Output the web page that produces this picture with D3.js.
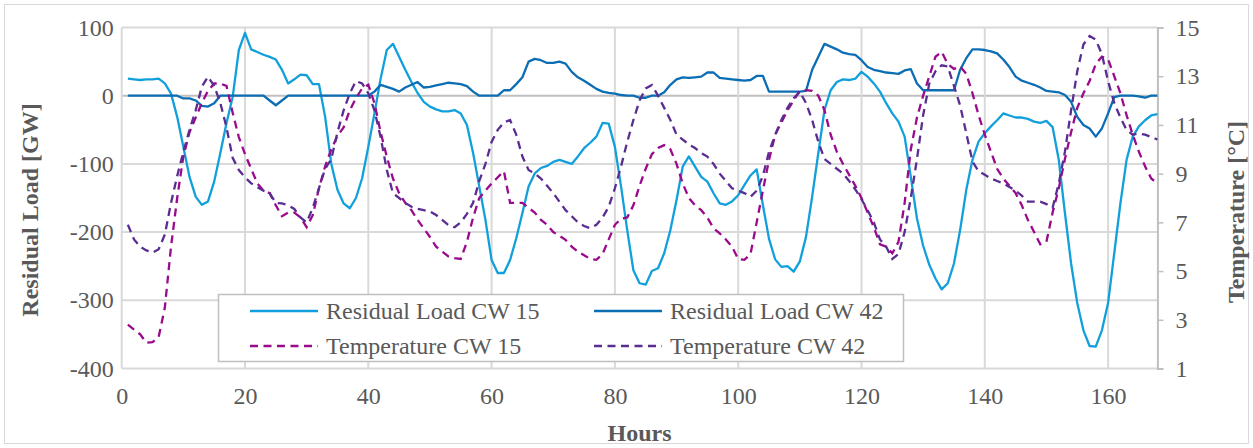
<!DOCTYPE html>
<html><head><meta charset="utf-8">
<script src="https://cdn.jsdelivr.net/npm/d3@7"></script>
<style>html,body{margin:0;padding:0;background:#fff;}svg{display:block;}</style>
</head><body>
<svg id="chart" width="1253" height="448"></svg>
<script>
const hours = [1,2,3,4,5,6,7,8,9,10,11,12,13,14,15,16,17,18,19,20,21,22,23,24,25,26,27,28,29,30,31,32,33,34,35,36,37,38,39,40,41,42,43,44,45,46,47,48,49,50,51,52,53,54,55,56,57,58,59,60,61,62,63,64,65,66,67,68,69,70,71,72,73,74,75,76,77,78,79,80,81,82,83,84,85,86,87,88,89,90,91,92,93,94,95,96,97,98,99,100,101,102,103,104,105,106,107,108,109,110,111,112,113,114,115,116,117,118,119,120,121,122,123,124,125,126,127,128,129,130,131,132,133,134,135,136,137,138,139,140,141,142,143,144,145,146,147,148,149,150,151,152,153,154,155,156,157,158,159,160,161,162,163,164,165,166,167,168];

const residualCW15 = [25,24,23,24,24,25,18,3,-31,-75,
-119,-148,-160,-155,-126,-84,-40,-2,67,92,
68,64,60,57,53,38,18,24,31,30,
17,17,-31,-100,-138,-158,-165,-150,-121,-75,
-26,25,67,76,57,38,20,4,-9,-16,
-20,-23,-23,-21,-26,-43,-84,-133,-182,-241,
-260,-260,-241,-209,-172,-133,-114,-106,-103,-97,
-94,-97,-100,-89,-77,-69,-60,-40,-41,-75,
-133,-197,-256,-275,-277,-257,-253,-231,-197,-153,
-104,-89,-104,-119,-126,-143,-158,-160,-155,-146,
-131,-117,-108,-160,-210,-240,-251,-250,-258,-243,
-207,-148,-84,-21,8,20,24,23,25,35,
28,18,6,-11,-26,-38,-60,-119,-180,-220,
-248,-268,-284,-275,-246,-197,-138,-94,-67,-55,
-45,-36,-26,-29,-32,-32,-34,-38,-40,-37,
-46,-94,-172,-246,-304,-344,-367,-368,-344,-304,
-231,-158,-94,-60,-45,-36,-29,-27];

const residualCW42 = [0,0,0,0,0,0,0,0,0,-4,
-4,-7,-15,-16,-11,0,0,0,0,0,
0,0,0,-7,-14,-7,0,0,0,0,
0,0,0,0,0,0,0,0,0,0,
6,16,13,10,6,12,16,20,12,13,
15,17,19,18,17,14,6,0,0,0,
0,8,8,17,27,50,54,52,48,48,
50,47,35,27,22,16,10,6,4,3,
1,0,0,-3,-3,0,0,5,16,24,
27,26,27,28,34,34,26,25,24,23,
22,23,29,29,6,6,6,6,6,6,
7,38,57,76,72,68,63,61,60,52,
42,38,36,34,33,32,37,39,18,8,
8,8,8,8,8,38,55,68,68,67,
65,62,53,42,28,22,19,16,12,7,
6,5,1,-9,-31,-43,-48,-60,-48,-26,
-2,0,0,0,-1,-3,0,0];

const temperatureCW15 = [2.8,2.6,2.4,2.06,2.08,2.3,3.5,6.0,8.0,9.7,
10.7,11.3,11.9,12.4,12.7,12.7,12.6,11.5,10.5,9.8,
9.2,8.6,8.3,8.2,7.7,7.25,7.4,7.4,7.2,6.8,
7.3,8.4,9.3,10.0,10.55,10.9,11.6,12.1,12.5,12.65,
11.9,10.7,9.7,8.8,8.2,7.8,7.5,7.1,6.75,6.4,
6.0,5.8,5.6,5.53,5.5,6.2,7.2,8.0,8.3,8.6,
8.85,9.1,7.8,7.8,7.8,7.6,7.4,7.1,6.9,6.6,
6.45,6.28,6.0,5.8,5.65,5.5,5.46,5.7,6.3,6.9,
7.15,7.2,7.7,8.5,9.2,9.8,10.05,10.17,10.0,9.4,
8.6,8.0,7.7,7.5,7.2,6.76,6.55,6.3,6.0,5.5,
5.46,5.7,7.0,8.3,9.56,10.6,11.1,11.6,12.0,12.4,
12.43,12.4,12.2,11.6,10.6,9.9,9.4,8.95,8.5,8.0,
7.4,6.8,6.1,6.0,5.73,6.2,7.8,10.0,11.3,12.2,
13.0,13.8,14.0,13.5,13.3,13.4,13.1,12.3,11.4,10.6,
9.9,9.2,8.8,8.5,8.2,7.7,7.1,6.6,6.1,6.2,
7.4,8.4,9.6,10.7,11.7,12.3,12.8,13.5,13.8,13.7,
13.0,12.3,11.4,10.6,9.9,9.3,8.8,8.6];

const temperatureCW42 = [6.9,6.3,6.0,5.85,5.76,5.9,6.5,7.8,8.9,9.9,
10.8,11.6,12.57,12.98,12.6,11.9,10.9,9.65,9.15,8.85,
8.6,8.45,8.3,8.2,7.8,7.78,7.7,7.55,7.2,7.0,
7.6,8.4,9.2,9.6,10.7,11.6,12.3,12.8,12.7,12.3,
11.6,10.5,9.15,8.2,8.0,7.8,7.64,7.55,7.5,7.45,
7.3,7.1,6.89,6.8,7.0,7.35,7.8,8.7,9.4,10.3,
10.8,11.1,11.2,10.6,9.7,9.15,9.0,8.8,8.5,8.2,
7.85,7.5,7.25,7.0,6.85,6.76,6.9,7.2,7.64,8.4,
9.3,10.3,11.2,12.0,12.5,12.64,12.2,11.7,11.2,10.6,
10.4,10.2,10.05,9.85,9.7,9.4,9.0,8.7,8.4,8.3,
8.2,8.05,8.3,8.9,9.9,10.6,11.2,11.7,12.1,12.36,
11.9,11.2,10.3,9.6,9.4,9.2,9.0,8.7,8.35,7.95,
7.5,7.0,6.3,6.0,5.5,5.7,6.6,8.0,9.6,11.4,
12.7,13.2,13.45,13.4,12.6,11.8,10.66,9.5,9.1,8.95,
8.8,8.7,8.6,8.45,8.3,8.1,7.85,7.85,7.85,7.75,
7.6,8.6,9.9,11.6,13.2,14.3,14.65,14.5,13.9,12.8,
11.9,11.3,10.8,10.6,10.65,10.6,10.5,10.4];

const xTicks = [0,20,40,60,80,100,120,140,160];
const yLeftTicks = [-400,-300,-200,-100,0,100];
const yRightTicks = [1,3,5,7,9,11,13,15];
const seriesNames = ["Residual Load CW 15","Residual Load CW 42","Temperature CW 15","Temperature CW 42"];
const seriesColors = ["#12a0dc","#0b6db3","#990a8c","#5a2d91"];

const svg = d3.select("#chart");
const m = {left:121.7, right:1157.4, top:27.5, bottom:368.5};
const font = "'Liberation Serif','Times New Roman',serif";
const txt = "#595959";
const gridCol = "#d9d9d9";
const fmt = d => String(d);

svg.append("rect").attr("x",4.5).attr("y",4.5).attr("width",1244).attr("height",439)
  .attr("fill","#fff").attr("stroke",gridCol).attr("stroke-width",1);

const x = d3.scaleLinear().domain([0,168]).range([m.left,m.right]);
const yL = d3.scaleLinear().domain([-400,100]).range([m.bottom,m.top]);
const yR = d3.scaleLinear().domain([1,15]).range([m.bottom,m.top]);

// gridlines
const g = svg.append("g");
g.selectAll(".hg").data(yLeftTicks).join("line")
  .attr("x1",m.left).attr("x2",m.right).attr("y1",d=>yL(d)).attr("y2",d=>yL(d))
  .attr("stroke",d=> d===0 ? "#bfbfbf" : gridCol).attr("stroke-width",2);
g.selectAll(".vg").data(xTicks).join("line")
  .attr("x1",d=>x(d)).attr("x2",d=>x(d)).attr("y1",m.top).attr("y2",m.bottom)
  .attr("stroke",gridCol).attr("stroke-width",2);

// right axis
const rightAxis = d3.axisRight(yR).tickValues(yRightTicks).tickSize(6).tickPadding(12).tickFormat(fmt);
const ra = svg.append("g").attr("transform",`translate(${m.right},0)`).call(rightAxis);
ra.select(".domain").attr("stroke","#bfbfbf").attr("stroke-width",2);
ra.selectAll(".tick line").attr("stroke","#bfbfbf").attr("stroke-width",1.5);
ra.selectAll(".tick text").attr("fill",txt).style("font-family",font).style("font-size","24px");

// left axis labels
const leftAxis = d3.axisLeft(yL).tickValues(yLeftTicks).tickSize(0).tickPadding(8).tickFormat(fmt);
const la = svg.append("g").attr("transform",`translate(${m.left},0)`).call(leftAxis);
la.select(".domain").remove();
la.selectAll(".tick text").attr("fill",txt).style("font-family",font).style("font-size","24px");

// bottom axis labels
const bottomAxis = d3.axisBottom(x).tickValues(xTicks).tickSize(0).tickPadding(18).tickFormat(fmt);
const ba = svg.append("g").attr("transform",`translate(0,${m.bottom})`).call(bottomAxis);
ba.select(".domain").remove();
ba.selectAll(".tick text").attr("fill",txt).style("font-family",font).style("font-size","24px");

// lines
const lineL = d3.line().x((d,i)=>x(hours[i])).y(d=>yL(d));
const lineR = d3.line().x((d,i)=>x(hours[i])).y(d=>yR(d));
const dash = "8,5.5";
svg.append("path").datum(residualCW15).attr("d",lineL).attr("fill","none").attr("stroke",seriesColors[0]).attr("stroke-width",2.3).attr("stroke-linejoin","round");
svg.append("path").datum(residualCW42).attr("d",lineL).attr("fill","none").attr("stroke",seriesColors[1]).attr("stroke-width",2.3).attr("stroke-linejoin","round");
svg.append("path").datum(temperatureCW15).attr("d",lineR).attr("fill","none").attr("stroke",seriesColors[2]).attr("stroke-width",2.3).attr("stroke-dasharray",dash);
svg.append("path").datum(temperatureCW42).attr("d",lineR).attr("fill","none").attr("stroke",seriesColors[3]).attr("stroke-width",2.3).attr("stroke-dasharray",dash);

// axis titles
svg.append("text").attr("transform","translate(38,210) rotate(-90)").attr("text-anchor","middle")
  .attr("fill",txt).style("font-family",font).style("font-size","24px").style("font-weight","bold").text("Residual Load [GW]");
svg.append("text").attr("transform","translate(1244,212) rotate(-90)").attr("text-anchor","middle")
  .attr("fill",txt).style("font-family",font).style("font-size","24px").style("font-weight","bold").text("Temperature [°C]");
svg.append("text").attr("x",(m.left+m.right)/2).attr("y",441).attr("text-anchor","middle")
  .attr("fill",txt).style("font-family",font).style("font-size","24px").style("font-weight","bold").text("Hours");

// legend
const lg = svg.append("g");
lg.append("rect").attr("x",218.5).attr("y",294.5).attr("width",685).attr("height",67)
  .attr("fill","#fff").attr("stroke","#bfbfbf").attr("stroke-width",1.5);
const legendPos = [[250,311],[594,311],[250,346],[594,346]];
seriesNames.forEach((name,i)=>{
  const [lx,ly] = legendPos[i];
  lg.append("line").attr("x1",lx).attr("x2",lx+68).attr("y1",ly).attr("y2",ly)
    .attr("stroke",seriesColors[i]).attr("stroke-width",2.3)
    .attr("stroke-dasharray", i>=2 ? dash : null);
  lg.append("text").attr("x",lx+76).attr("y",ly).attr("dy","0.35em")
    .attr("fill",txt).style("font-family",font).style("font-size","24px").text(name);
});
</script>
</body></html>
